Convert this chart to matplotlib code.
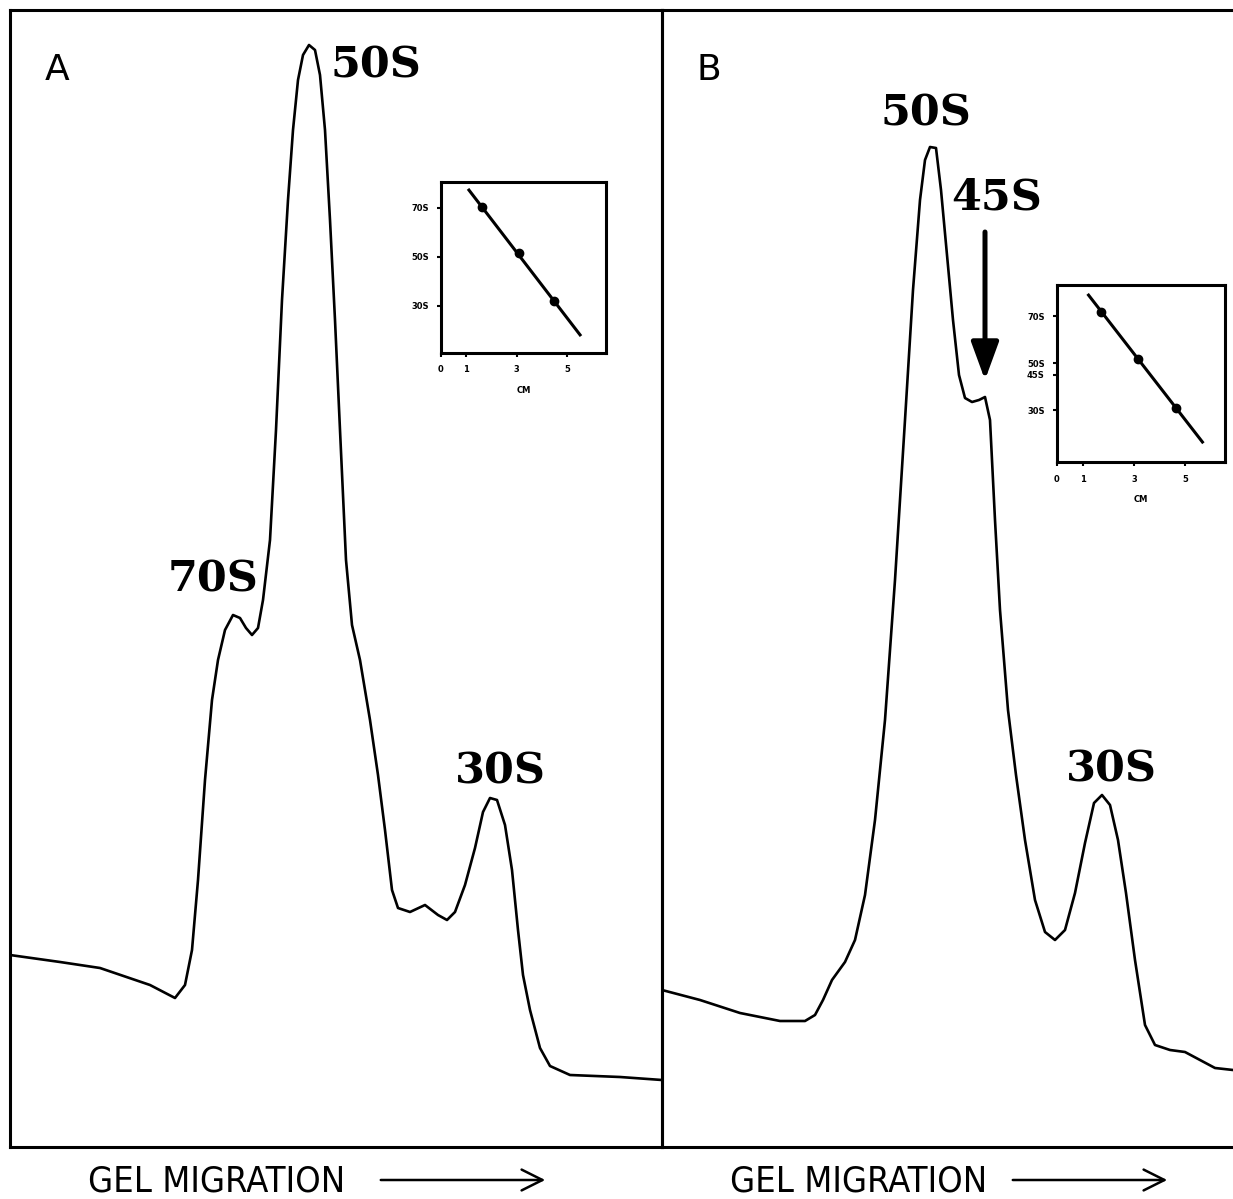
import matplotlib
matplotlib.use("Agg")
import matplotlib.pyplot as plt
from matplotlib.patches import FancyArrowPatch

# ---------------- data (migration, absorbance in arbitrary units) ----------------
a_migration = [0, 50, 90, 140, 165, 175, 182, 188, 195, 202, 208, 215, 223, 230, 236, 242,
               248, 253, 260, 266, 272, 278, 283, 288, 293, 299, 305, 310, 315, 320, 325,
               330, 336, 342, 350, 360, 368, 375, 382, 388, 400, 415, 428, 437, 445, 455,
               465, 473, 480, 487, 495, 502, 508, 513, 520, 530, 540, 560, 610, 652]
a_absorb = [192, 185, 179, 162, 149, 162, 197, 267, 367, 447, 487, 517, 532, 529, 519, 512,
            519, 547, 607, 717, 847, 947, 1017, 1067, 1092, 1102, 1097, 1072, 1017, 927, 827,
            717, 587, 522, 487, 427, 372, 317, 257, 239, 235, 242, 232, 227, 235, 262,
            299, 335, 349, 347, 322, 277, 217, 172, 137, 99, 81, 72, 70, 67]

b_migration = [0, 38, 78, 118, 143, 153, 161, 170, 183, 193, 203, 213, 223, 233, 243, 251,
               258, 263, 268, 274, 279, 285, 291, 297, 303, 310, 317, 323, 328, 333, 338,
               346, 354, 363, 373, 383, 393, 403, 413, 423, 432, 440, 448, 456, 464, 473,
               483, 493, 508, 523, 538, 553, 571]
b_absorb = [157, 147, 134, 126, 126, 132, 147, 167, 185, 207, 252, 327, 427, 567, 727, 857,
            947, 987, 1000, 999, 957, 892, 827, 772, 749, 745, 747, 750, 727, 627, 537,
            437, 372, 307, 247, 215, 207, 217, 254, 304, 344, 352, 342, 307, 254, 187,
            122, 102, 97, 95, 87, 79, 77]

# peak labels: (text, migration, absorbance)
a_labels = [("50S", 366, 1082), ("70S", 203, 567), ("30S", 490, 375)]
b_labels = [("50S", 264, 1034), ("45S", 335, 949), ("30S", 449, 377)]

# inset calibration (distance cm vs S value)
inset_a_cm = [1.63, 3.10, 4.48]
inset_a_s = [70.4, 51.6, 32.0]
inset_a_fit_cm = [1.11, 5.52]
inset_a_fit_s = [77.3, 18.2]
inset_a_yticks = [70, 50, 30]
inset_a_ylabels = ["70S", "50S", "30S"]

inset_b_cm = [1.71, 3.17, 4.64]
inset_b_s = [71.7, 51.7, 30.9]
inset_b_fit_cm = [1.23, 5.67]
inset_b_fit_s = [78.9, 16.4]
inset_b_yticks = [70, 50, 45, 30]
inset_b_ylabels = ["70S", "50S", "45S", "30S"]

inset_xticks = [0, 1, 3, 5]
inset_xlabels = ["0", "1", "3", "5"]

# ---------------- figure ----------------
W, H = 1233, 1199
fig = plt.figure(figsize=(W / 100, H / 100), dpi=100)
fig.patch.set_facecolor("white")

def fbox(l, t, r, b):
    return [l / W, 1 - b / H, (r - l) / W, (b - t) / H]

axA = fig.add_axes(fbox(10, 10, 662, 1147))
axB = fig.add_axes(fbox(662, 10, 1233, 1147))
axB.patch.set_alpha(0)

LABEL_FONT = dict(family="DejaVu Serif", fontweight="bold", fontsize=31)

for ax, xs, ys, xmax, labels, letter in [
    (axA, a_migration, a_absorb, 652, a_labels, "A"),
    (axB, b_migration, b_absorb, 571, b_labels, "B"),
]:
    ax.plot(xs, ys, color="black", lw=1.9, solid_joinstyle="round")
    ax.set_xlim(0, xmax)
    ax.set_ylim(0, 1137)
    ax.set_xticks([])
    ax.set_yticks([])
    for s in ax.spines.values():
        s.set_linewidth(2.2)
    for t, x, y in labels:
        ax.text(x, y, t, ha="center", va="center", **LABEL_FONT)
    ax.text(47, 1077, letter, ha="center", va="center", fontsize=26,
            family="DejaVu Sans")

axB.spines["right"].set_visible(False)

# 45S arrow
arr = FancyArrowPatch((323, 915), (323, 767), arrowstyle="-|>,head_width=0.42,head_length=1.15",
                      mutation_scale=20, lw=3.6, color="black", shrinkA=0, shrinkB=0)
axB.add_patch(arr)

# ---------------- insets ----------------
def inset(box, cm, s, fcm, fs, yt, yl, ylim):
    ax = fig.add_axes(box)
    ax.plot(fcm, fs, color="black", lw=2.2)
    ax.plot(cm, s, "o", color="black", ms=6)
    ax.set_xlim(0, 6.55)
    ax.set_ylim(*ylim)
    ax.set_xticks(inset_xticks)
    ax.set_xticklabels(inset_xlabels)
    ax.set_yticks(yt)
    ax.set_yticklabels(yl)
    ax.tick_params(direction="out", length=3, width=1.5, pad=6,
                   labelsize=6)
    for lab in ax.get_xticklabels() + ax.get_yticklabels():
        lab.set_fontweight("bold")
    ax.set_xlabel("CM", fontsize=6, fontweight="bold", labelpad=8)
    for sp in ax.spines.values():
        sp.set_linewidth(2.2)
    return ax

inset(fbox(441, 182, 606, 353), inset_a_cm, inset_a_s, inset_a_fit_cm, inset_a_fit_s,
      inset_a_yticks, inset_a_ylabels, (10.8, 80.6))
inset(fbox(1057, 285, 1225, 462), inset_b_cm, inset_b_s, inset_b_fit_cm, inset_b_fit_s,
      inset_b_yticks, inset_b_ylabels, (7.9, 83.2))

# ---------------- bottom captions ----------------
for tx, ax0, ax1 in [(88, 378, 548), (730, 1010, 1170)]:
    fig.text(tx / W, 1 - 1182 / H, "GEL MIGRATION", ha="left", va="center",
             fontsize=26, family="DejaVu Sans", fontstretch="condensed")
    fig.add_artist(FancyArrowPatch((ax0 / W, 1 - 1180 / H), (ax1 / W, 1 - 1180 / H),
                                   transform=fig.transFigure,
                                   arrowstyle="->,head_width=0.5,head_length=1.0",
                                   mutation_scale=15, lw=1.8, color="black"))

fig.savefig("out.png", dpi=100, facecolor="white")
